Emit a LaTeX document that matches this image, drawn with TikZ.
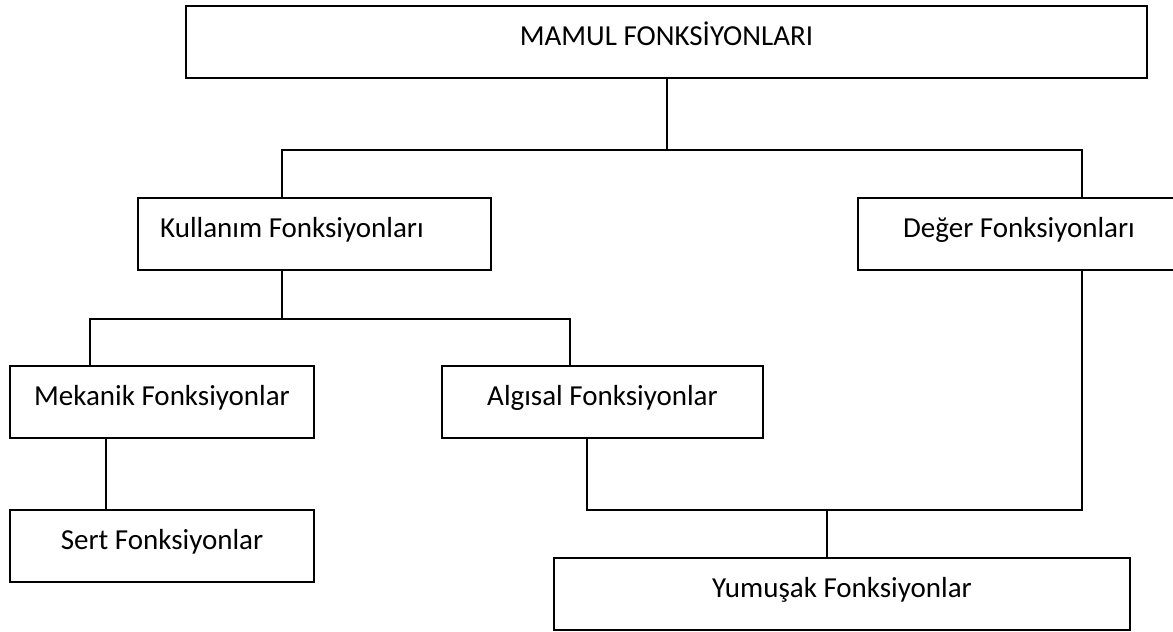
\documentclass[tikz,border=0pt]{standalone}
\usepackage{fontspec}
\setmainfont{Carlito}
\begin{document}
\begin{tikzpicture}[x=0.5pt,y=-0.5pt,
  box/.style={draw=black, line width=1pt, rectangle, inner sep=0pt, outer sep=0pt,
    minimum height=36pt, text height=10pt, text depth=7pt,
    font=\fontsize{14.5}{17}\selectfont},
  conn/.style={draw=black, line width=1pt}]
\useasboundingbox (0,0) rectangle (1173,632);
\clip (0,0) rectangle (1173,632);
\fill[white] (0,0) rectangle (1173,632);

\node[box, minimum width=480.5pt] (top) at (666.5,42) {MAMUL FONKSİYONLARI};
\node[box, minimum width=176.5pt] (kul) at (314.5,234) {\hspace*{-22.5pt}Kullanım Fonksiyonları};
\node[box, minimum width=161pt] (deg) at (1019,234) {Değer Fonksiyonları};
\node[box, minimum width=152pt] (mek) at (162,402) {Mekanik Fonksiyonlar};
\node[box, minimum width=160.5pt] (alg) at (602.5,402) {Algısal Fonksiyonlar};
\node[box, minimum width=152pt] (sert) at (162,546) {Sert Fonksiyonlar};
\node[box, minimum width=288pt] (yum) at (842,594) {Yumuşak Fonksiyonlar};

\coordinate (b1) at (666.5,150);
\coordinate (b2) at (282,319);
\coordinate (b3) at (827,510);

\draw[conn] (top.south) -- (b1);
\draw[conn] ([xshift=72pt]kul.north west) |- (b1) -| ([xshift=112pt]deg.north west);

\draw[conn] ([xshift=72pt]kul.south west) -- (b2);
\draw[conn] ([xshift=40pt]mek.north west) |- (b2) -| ([xshift=64pt]alg.north west);

\draw[conn] ([xshift=48pt]mek.south west) -- ([xshift=48pt]sert.north west);

\draw[conn] ([xshift=72.5pt]alg.south west) |- (b3) -| ([xshift=112pt]deg.south west);
\draw[conn] (b3) -- (b3 |- yum.north);
\end{tikzpicture}
\end{document}
